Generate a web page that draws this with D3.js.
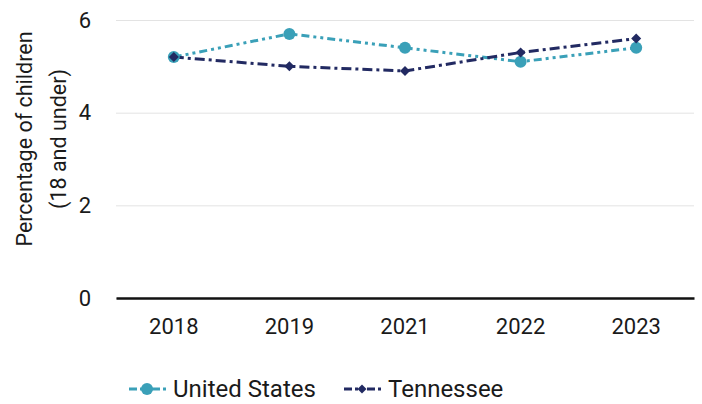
<!DOCTYPE html>
<html>
<head>
<meta charset="utf-8">
<script src="https://cdn.jsdelivr.net/npm/d3@7"></script>
<style>
  body { margin: 0; background: #fff; }
  text { font-family: Roboto, "Liberation Sans", sans-serif; fill: #1a1a1a; }
</style>
</head>
<body>
<div id="chart"></div>
<script>
// data
var years = ["2018", "2019", "2021", "2022", "2023"];
var usValues = [5.2, 5.7, 5.4, 5.1, 5.4];
var tnValues = [5.2, 5.0, 4.9, 5.3, 5.6];
var yTicks = [0, 2, 4, 6];
var seriesNames = ["United States", "Tennessee"];

var W = 702, H = 404;
var margin = {top: 20, right: 8, bottom: 106, left: 116},
    width = W - margin.left - margin.right,
    height = H - margin.top - margin.bottom;

var x = d3.scaleBand().domain(years).range([0, width]).padding(0);
var y = d3.scaleLinear().domain([0, 6]).range([height, 0]);

var svg = d3.select("#chart").append("svg")
    .attr("width", W)
    .attr("height", H)
  .append("g")
    .attr("transform", "translate(" + margin.left + "," + margin.top + ")");

// gridlines
svg.append("g")
    .call(d3.axisLeft(y).tickValues(yTicks).tickSize(-width).tickFormat(""))
    .call(function(g) {
      g.select(".domain").remove();
      g.selectAll("line").attr("stroke", "#e3e3e3").attr("stroke-width", 1);
    });

// y tick labels
svg.append("g")
    .attr("transform", "translate(-22,0)")
    .call(d3.axisLeft(y).tickValues(yTicks).tickSize(0).tickFormat(d3.format("d")))
    .call(function(g) {
      g.select(".domain").remove();
      g.selectAll("text").attr("font-size", 22).attr("fill", "#1a1a1a");
    });

// x axis
svg.append("g")
    .attr("transform", "translate(0," + height + ")")
    .call(d3.axisBottom(x).tickSize(0).tickPadding(20))
    .call(function(g) {
      g.select(".domain").attr("stroke", "#111").attr("stroke-width", 2.5);
      g.selectAll("text").attr("font-size", 22).attr("fill", "#1a1a1a");
    });

// axis title
var yt = svg.append("text")
    .attr("transform", "translate(" + (-margin.left + 32) + "," + (139 - margin.top) + ") rotate(-90)")
    .attr("text-anchor", "middle")
    .attr("font-size", 21.5);
yt.append("tspan").attr("x", 0).attr("dy", 0).text("Percentage of children");
yt.append("tspan").attr("x", 0).attr("dy", 34).text("(18 and under)");

var colors = ["#3aa0b8", "#222a62"];
var dashes = ["8,4,3,4,3,4", "10,4,3,4"];
var series = [usValues, tnValues];

var line = d3.line()
    .x(function(d, i) { return x(years[i]) + x.bandwidth() / 2; })
    .y(function(d) { return y(d); });

series.forEach(function(vals, s) {
  svg.append("path")
      .datum(vals)
      .attr("fill", "none")
      .attr("stroke", colors[s])
      .attr("stroke-width", 3)
      .attr("stroke-dasharray", dashes[s])
      .attr("d", line);
});

// markers
svg.selectAll(".us-dot")
    .data(usValues)
    .enter().append("circle")
    .attr("class", "us-dot")
    .attr("cx", function(d, i) { return x(years[i]) + x.bandwidth() / 2; })
    .attr("cy", function(d) { return y(d); })
    .attr("r", 6)
    .attr("fill", colors[0]);

svg.selectAll(".tn-dot")
    .data(tnValues)
    .enter().append("path")
    .attr("class", "tn-dot")
    .attr("transform", function(d, i) {
      return "translate(" + (x(years[i]) + x.bandwidth() / 2) + "," + y(d) + ") rotate(45)";
    })
    .attr("d", d3.symbol().type(d3.symbolSquare).size(50))
    .attr("fill", colors[1]);

// legend
var legend = d3.select("svg").append("g").attr("transform", "translate(0,389)");
var legX = [129, 344];
seriesNames.forEach(function(name, s) {
  var g = legend.append("g").attr("transform", "translate(" + legX[s] + ",0)");
  g.append("line")
      .attr("x1", 0).attr("x2", 40).attr("y1", 0).attr("y2", 0)
      .attr("stroke", colors[s]).attr("stroke-width", 3)
      .attr("stroke-dasharray", "8,3,3,3,3,3");
  if (s === 0) {
    g.append("circle").attr("cx", 18).attr("cy", 0).attr("r", 6).attr("fill", colors[s]);
  } else {
    g.append("path").attr("transform", "translate(18,0) rotate(45)")
        .attr("d", d3.symbol().type(d3.symbolSquare).size(40)).attr("fill", colors[s]);
  }
  g.append("text")
      .attr("x", 44).attr("y", 0).attr("dy", "0.35em")
      .attr("font-size", 24)
      .text(name);
});
</script>
</body>
</html>
